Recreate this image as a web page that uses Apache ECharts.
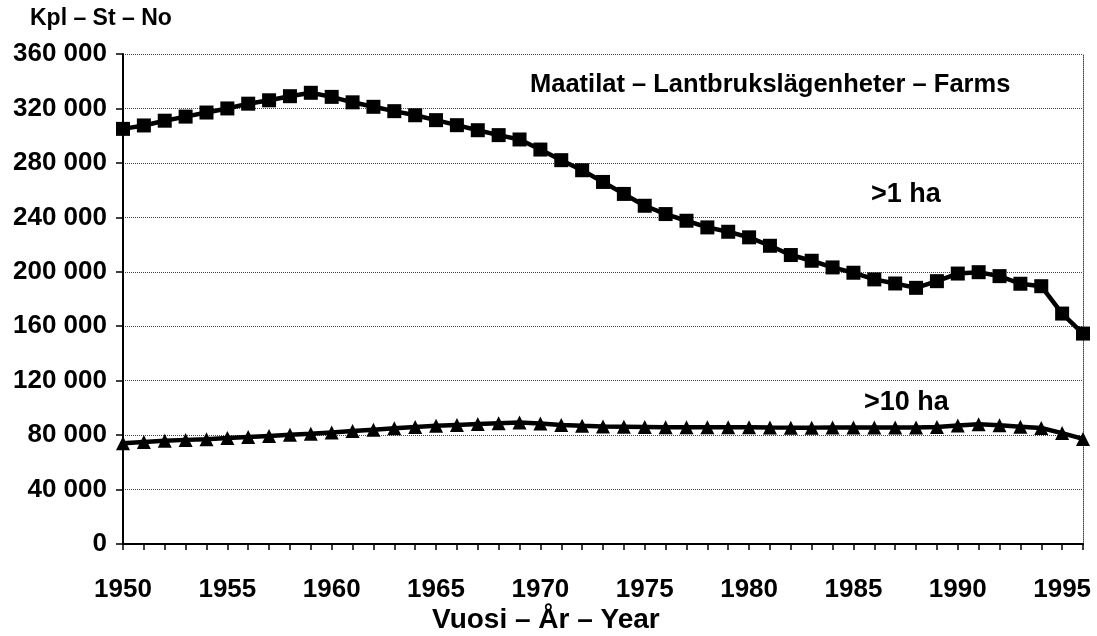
<!DOCTYPE html>
<html>
<head>
<meta charset="utf-8">
<script src="https://cdn.jsdelivr.net/npm/echarts@6/dist/echarts.min.js"></script>
<style>
  html, body { margin: 0; padding: 0; background: #fff; }
  #chart { width: 1097px; height: 636px; }
</style>
</head>
<body>
<div id="chart"></div>
<script>
// vuodet 1950-1996
const years = ['1950', '1951', '1952', '1953', '1954', '1955', '1956', '1957', '1958', '1959',
  '1960', '1961', '1962', '1963', '1964', '1965', '1966', '1967', '1968', '1969',
  '1970', '1971', '1972', '1973', '1974', '1975', '1976', '1977', '1978', '1979',
  '1980', '1981', '1982', '1983', '1984', '1985', '1986', '1987', '1988', '1989',
  '1990', '1991', '1992', '1993', '1994', '1995', '1996']

// >1 ha
const farmsOver1 = [305000, 307500, 311000, 314000, 317000, 320000, 323500, 326000, 329000, 331500,
  328500, 324500, 321200, 318000, 315000, 311400, 307700, 304000, 300400, 297200,
  289800, 282000, 274600, 266000, 257200, 248500, 242400, 237500, 232600, 229400,
  225300, 219100, 212300, 208100, 203200, 199300, 194400, 191400, 188200, 193100,
  198700, 199700, 196800, 191200, 189400, 169300, 154600]

// >10 ha
const farmsOver10 = [74000, 75000, 75800, 76500, 77000, 77800, 78600, 79400, 80200, 81000,
  82000, 83000, 84000, 85000, 86000, 86800, 87500, 88200, 88800, 89200,
  88600, 87500, 86800, 86400, 86200, 86000, 85800, 85800, 85800, 85800,
  85800, 85600, 85500, 85500, 85600, 85600, 85600, 85600, 85600, 86000,
  87000, 88000, 87200, 86200, 85200, 81500, 77200]

const font = 'Liberation Sans, Arial, Helvetica, sans-serif'

const chart = echarts.init(document.getElementById('chart'))

chart.setOption({
  animation: false,
  backgroundColor: '#fff',
  grid: { left: 123, right: 14, top: 54, bottom: 92 },
  xAxis: {
    type: 'category',
    data: years,
    boundaryGap: false,
    axisLine: { lineStyle: { color: '#000', width: 2 } },
    axisTick: { interval: 0, length: 6, lineStyle: { color: '#000', width: 1.5 } },
    axisLabel: { interval: 4, margin: 33, color: '#000', fontSize: 26, fontWeight: 'bold', fontFamily: font }
  },
  yAxis: [{
    type: 'value',
    min: 0,
    max: 360000,
    interval: 40000,
    axisLine: { show: true, lineStyle: { color: '#000', width: 2 } },
    axisTick: { show: true, length: 7, lineStyle: { color: '#000', width: 1.5 } },
    axisLabel: {
      margin: 16,
      color: '#000',
      fontSize: 26,
      fontWeight: 'bold',
      fontFamily: font,
      formatter: v => String(v).replace(/\B(?=(\d{3})+(?!\d))/g, ' ')
    },
    splitLine: { lineStyle: { color: '#444', type: 'dotted', width: 1 } }
  }, {
    type: 'value',
    position: 'right',
    min: 0,
    max: 360000,
    interval: 40000,
    axisLine: { show: true, lineStyle: { color: '#444', type: 'dotted', width: 1 } },
    axisTick: { show: false },
    axisLabel: { show: false },
    splitLine: { show: false }
  }],
  graphic: [
    { type: 'text', left: 30, top: 7, style: { text: 'Kpl – St – No', font: 'bold 23px ' + font, fill: '#000' } },
    { type: 'text', left: 530, top: 72, style: { text: 'Maatilat – Lantbrukslägenheter – Farms', font: 'bold 25.5px ' + font, fill: '#000' } },
    { type: 'text', left: 871, top: 181, style: { text: '>1 ha', font: 'bold 27px ' + font, fill: '#000' } },
    { type: 'text', left: 864, top: 389, style: { text: '>10 ha', font: 'bold 27px ' + font, fill: '#000' } },
    { type: 'text', left: 432, top: 606, style: { text: 'Vuosi – År – Year', font: 'bold 28px ' + font, fill: '#000' } }
  ],
  series: [{
    name: '>1 ha',
    type: 'line',
    data: farmsOver1,
    symbol: 'rect',
    symbolSize: 14,
    showAllSymbol: true,
    lineStyle: { color: '#000', width: 4.5 },
    itemStyle: { color: '#000' }
  }, {
    name: '>10 ha',
    type: 'line',
    data: farmsOver10,
    symbol: 'triangle',
    symbolSize: 14,
    showAllSymbol: true,
    lineStyle: { color: '#000', width: 4.5 },
    itemStyle: { color: '#000' }
  }]
})
</script>
</body>
</html>
